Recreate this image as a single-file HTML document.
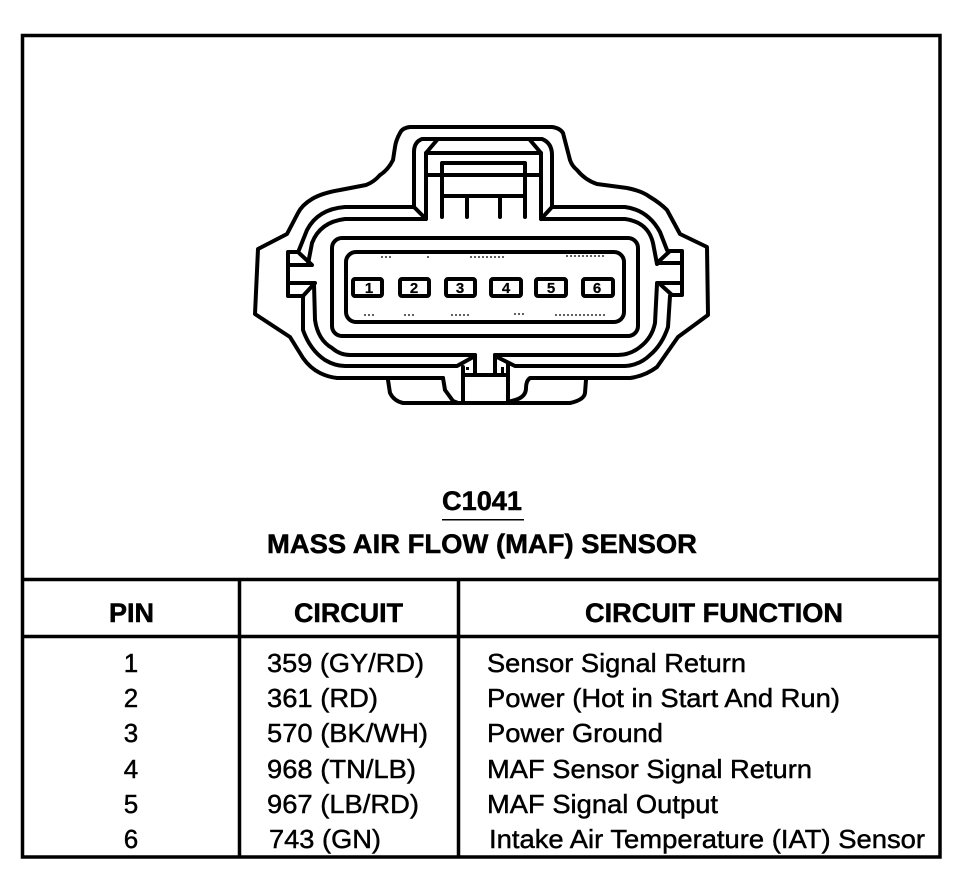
<!DOCTYPE html>
<html>
<head>
<meta charset="utf-8">
<style>
html,body{margin:0;padding:0;background:#fff;}
svg{display:block;}
text{font-family:"Liberation Sans",Arial,sans-serif;fill:#000;stroke:#000;}
.b{font-weight:bold;font-size:27px;stroke-width:.5;}
.r{font-size:26px;stroke-width:.45;}
.l{fill:none;stroke:#000;stroke-width:4;stroke-linejoin:round;stroke-linecap:round;}
.f{fill:none;stroke:#000;stroke-width:3.5;}
</style>
</head>
<body>
<svg width="968" height="880" viewBox="0 0 968 880" xmlns="http://www.w3.org/2000/svg">
<rect width="968" height="880" fill="#fff"/>

<!-- frame and table -->
<rect class="f" x="22.5" y="35.5" width="917.5" height="821.5"/>
<path class="f" d="M22 579.5H940M22 636.5H940M239.5 579V857M458.5 579V857"/>

<!-- connector outer shell -->
<path class="l" d="M480 127H410Q402 128 400 133Q396 140 395 147L393 160Q388 170 380 175Q374 182 366 185L340 190Q322 193 312 199Q302 205 298 213L287 234L258 249L255 314L290 337L303 358Q310 368 320 373Q328 377 337 378H443"/>
<path class="l" d="M480 127H552Q560 128 563 133L570 160Q572 166 577 170Q585 180 597 184L627 188Q642 191 650 197Q660 203 667 210L680 234L707 247L708 315L678 337L657 367Q645 376 630 378H530Q526 381 526 388Q526 397 515 400L508 402"/>
<!-- lower tab -->
<path class="l" d="M388 380L390 393Q394 401 403 403H570Q584 400 585 393L586 380"/>
<path class="l" d="M443 378L445 390L453 401L458 403"/>

<!-- second contour top/left -->
<path class="l" d="M437 139H422Q414 142 414 152V207H345Q318 209 307 230L299 250"/>
<path class="l" d="M437 139H530M530 139H542Q552 143 552 155V207H625Q648 210 660 232L667 250"/>
<!-- third contour -->
<path class="l" d="M426 219H345Q320 222 312 243L308 264"/>
<path class="l" d="M541 219H625Q648 222 653 243L657 264"/>
<path class="l" d="M414 207L426 219V153L437 140"/>
<path class="l" d="M552 207L541 219V153L530 140"/>
<path class="l" d="M426 153H541M428 175H541"/>
<path class="l" d="M442 217V163H525V217M442 196H525M467 196V217M500 198V217"/>

<!-- side tabs -->
<path class="l" d="M298 252H288V296H303L314 284M288 265H312L298 252M288 283H315"/>
<path class="l" d="M670 251H682V295H672L661 285M682 263H657L670 251M682 283H657"/>

<!-- lower contours -->
<path class="l" d="M314 284L315 320Q318 340 332 348Q340 355 350 355H475"/>
<path class="l" d="M303 296L303 330Q310 350 325 360Q335 366 345 366H457L475 356"/>
<path class="l" d="M657 284L655 323Q652 338 640 347Q630 355 618 355H495"/>
<path class="l" d="M670 296L668 327Q662 345 650 355Q640 365 625 366H515L495 356"/>

<!-- center key -->
<path class="l" d="M475 355V375M495 355V375M463 367V403M508 364V403M463 375H508"/>
<path class="l" d="M443 403H530"/>
<rect x="466" y="367" width="3" height="3" fill="#000"/>
<rect x="501" y="367" width="3" height="6" fill="#000"/>

<!-- inner rectangles -->
<rect class="l" x="332" y="238" width="306" height="98" rx="10"/>
<rect class="l" x="346" y="252" width="278" height="70" rx="10"/>

<!-- pins -->
<rect class="l" x="353" y="279" width="29" height="17" rx="2"/>
<rect class="l" x="400" y="279" width="29" height="17" rx="2"/>
<rect class="l" x="446" y="279" width="29" height="17" rx="2"/>
<rect class="l" x="491" y="279" width="30" height="17" rx="2"/>
<rect class="l" x="536" y="279" width="30" height="17" rx="2"/>
<rect class="l" x="583" y="279" width="30" height="17" rx="2"/>
<g font-size="15" font-weight="bold" style="stroke-width:.2">
<text x="369" y="293" text-anchor="middle">1</text>
<text x="414" y="293" text-anchor="middle">2</text>
<text x="460" y="293" text-anchor="middle">3</text>
<text x="506" y="293" text-anchor="middle">4</text>
<text x="551" y="293" text-anchor="middle">5</text>
<text x="597" y="293" text-anchor="middle">6</text>
</g>

<!-- faint speckle marks -->
<path d="M381 257h12M427 257h3M470 257h6M478 257h26M566 256h40M364 315h10M404 315h10M451 315h19M514 314h12M555 315h50" stroke="#000" stroke-width="1.2" stroke-dasharray="2 2" fill="none"/>

<!-- titles -->
<text class="b" x="442" y="510" textLength="80" lengthAdjust="spacingAndGlyphs">C1041</text>
<rect x="442" y="519" width="82" height="1.5" fill="#000"/>
<text class="b" x="267" y="553" textLength="430" lengthAdjust="spacingAndGlyphs">MASS AIR FLOW (MAF) SENSOR</text>

<!-- headers -->
<text class="b" x="109" y="622" textLength="45" lengthAdjust="spacingAndGlyphs">PIN</text>
<text class="b" x="294" y="622" textLength="109" lengthAdjust="spacingAndGlyphs">CIRCUIT</text>
<text class="b" x="585" y="622" textLength="258" lengthAdjust="spacingAndGlyphs">CIRCUIT FUNCTION</text>

<!-- pin col -->
<text class="r" x="131" y="672" text-anchor="middle">1</text>
<text class="r" x="131" y="707" text-anchor="middle">2</text>
<text class="r" x="131" y="742" text-anchor="middle">3</text>
<text class="r" x="131" y="778" text-anchor="middle">4</text>
<text class="r" x="131" y="813" text-anchor="middle">5</text>
<text class="r" x="131" y="848" text-anchor="middle">6</text>

<!-- circuit col -->
<text class="r" x="267" y="672" textLength="157" lengthAdjust="spacingAndGlyphs">359 (GY/RD)</text>
<text class="r" x="267" y="707" textLength="111" lengthAdjust="spacingAndGlyphs">361 (RD)</text>
<text class="r" x="267" y="742" textLength="161" lengthAdjust="spacingAndGlyphs">570 (BK/WH)</text>
<text class="r" x="267" y="778" textLength="149" lengthAdjust="spacingAndGlyphs">968 (TN/LB)</text>
<text class="r" x="267" y="813" textLength="152" lengthAdjust="spacingAndGlyphs">967 (LB/RD)</text>
<text class="r" x="269" y="848" textLength="112" lengthAdjust="spacingAndGlyphs">743 (GN)</text>

<!-- function col -->
<text class="r" x="487" y="672" textLength="259" lengthAdjust="spacingAndGlyphs">Sensor Signal Return</text>
<text class="r" x="487" y="707" textLength="353" lengthAdjust="spacingAndGlyphs">Power (Hot in Start And Run)</text>
<text class="r" x="487" y="742" textLength="176" lengthAdjust="spacingAndGlyphs">Power Ground</text>
<text class="r" x="487" y="778" textLength="325" lengthAdjust="spacingAndGlyphs">MAF Sensor Signal Return</text>
<text class="r" x="487" y="813" textLength="231" lengthAdjust="spacingAndGlyphs">MAF Signal Output</text>
<text class="r" x="489" y="848" textLength="436" lengthAdjust="spacingAndGlyphs">Intake Air Temperature (IAT) Sensor</text>
</svg>
</body>
</html>
